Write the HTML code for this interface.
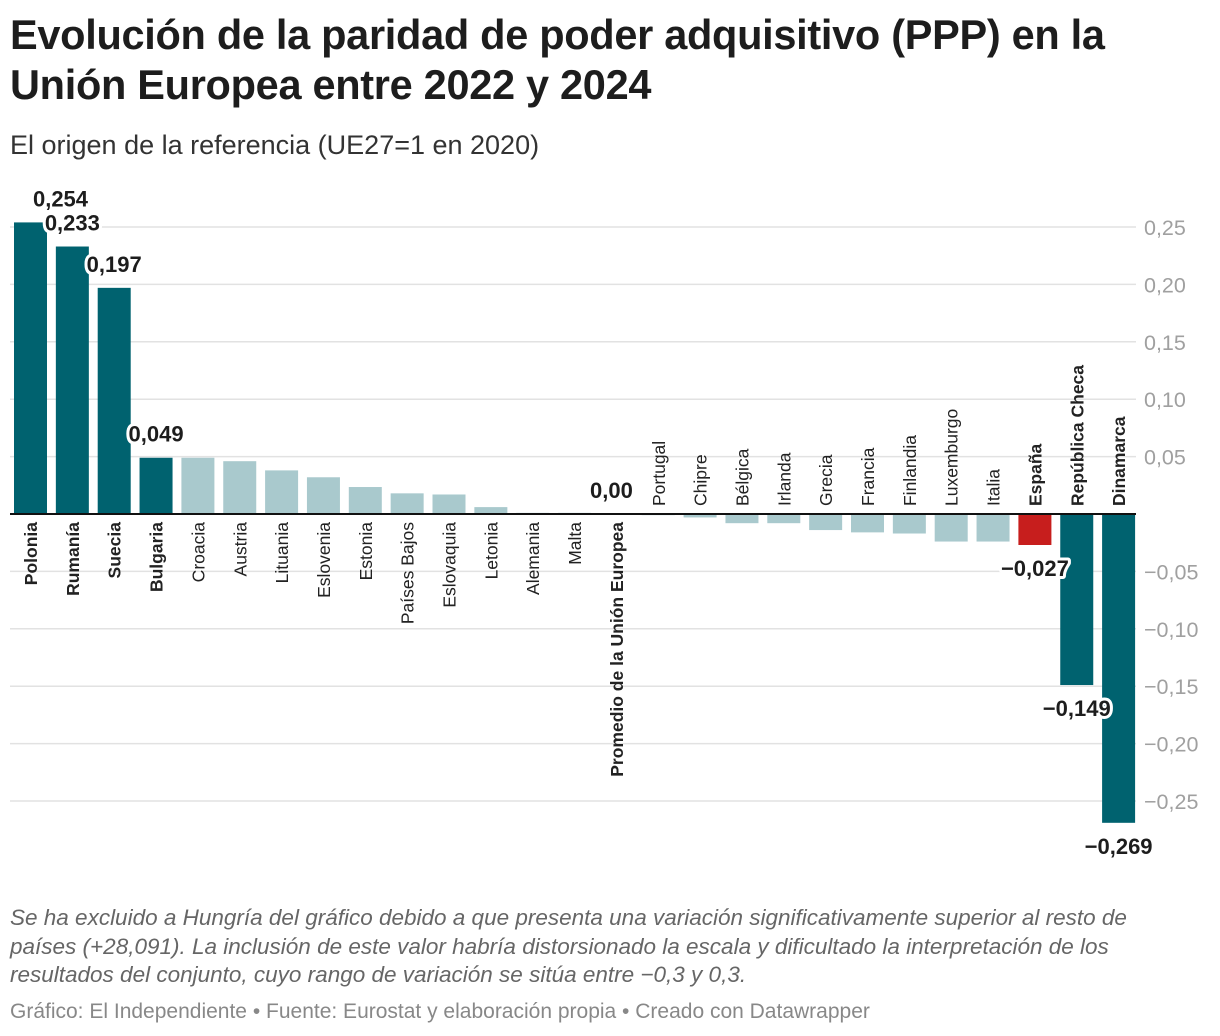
<!DOCTYPE html>
<html><head><meta charset="utf-8">
<style>
body{margin:0;background:#fff;width:1220px;height:1036px;overflow:hidden;font-family:"Liberation Sans",Arial,sans-serif;color:#1d1d1d}
h1{position:absolute;left:10px;top:10px;margin:0;font-size:41.5px;line-height:50px;font-weight:bold;letter-spacing:-0.3px;width:1200px}
.sub{position:absolute;left:10px;top:130px;font-size:27px;color:#333}
.note{position:absolute;left:10px;top:904px;font-size:22.5px;line-height:28.5px;font-style:italic;color:#666;width:1178px}
.src{position:absolute;left:10px;top:1000px;font-size:21px;color:#888}
svg{position:absolute;left:0;top:0}
</style></head><body>
<h1>Evolución de la paridad de poder adquisitivo (PPP) en la Unión Europea entre 2022 y 2024</h1>
<div class="sub">El origen de la referencia (UE27=1 en 2020)</div>
<svg id="chart" width="1220" height="1036"></svg>
<div class="note">Se ha excluido a Hungría del gráfico debido a que presenta una variación significativamente superior al resto de países (+28,091). La inclusión de este valor habría distorsionado la escala y dificultado la interpretación de los resultados del conjunto, cuyo rango de variación se sitúa entre −0,3 y 0,3.</div>
<div class="src">Gráfico: El Independiente • Fuente: Eurostat y elaboración propia • Creado con Datawrapper</div>
<script>
const categories=["Polonia","Rumanía","Suecia","Bulgaria","Croacia","Austria","Lituania","Eslovenia","Estonia","Países Bajos","Eslovaquia","Letonia","Alemania","Malta","Promedio de la Unión Europea","Portugal","Chipre","Bélgica","Irlanda","Grecia","Francia","Finlandia","Luxemburgo","Italia","España","República Checa","Dinamarca"];
const values=[0.254,0.233,0.197,0.049,0.049,0.046,0.038,0.032,0.0235,0.018,0.017,0.006,0.001,0.001,0,-0.001,-0.003,-0.008,-0.008,-0.014,-0.016,-0.017,-0.024,-0.024,-0.027,-0.149,-0.269];
const highlight=["Polonia","Rumanía","Suecia","Bulgaria","Promedio de la Unión Europea","España","República Checa","Dinamarca"];
const labeled=["Polonia","Rumanía","Suecia","Bulgaria","Promedio de la Unión Europea","España","República Checa","Dinamarca"];
const ticks=[0.25,0.2,0.15,0.1,0.05,-0.05,-0.1,-0.15,-0.2,-0.25];
const tickLabels=["0,25","0,20","0,15","0,10","0,05","−0,05","−0,10","−0,15","−0,20","−0,25"];

const NS="http://www.w3.org/2000/svg";
const svg=document.getElementById('chart');
const y0=514, k=1148;
const y=v=>y0-v*k;
const pitch=41.85, bw=33;
const x=i=>14+i*pitch;
function el(t,a,p){const e=document.createElementNS(NS,t);for(const n in a)e.setAttribute(n,a[n]);(p||svg).appendChild(e);return e;}
const fmt=v=>(v<0?"−":"")+Math.abs(v).toFixed(3).replace('.',',');

ticks.forEach((t,i)=>{
  const g=el('line',{x1:10,x2:1136,y1:y(t),y2:y(t),stroke:'#e2e2e2','stroke-width':1.5});
  
  
  const tx=el('text',{x:1144,y:y(t)+8,'font-size':21.5,fill:'#a0a0a0'});
  tx.textContent=tickLabels[i];
  
  
});

categories.forEach((c,i)=>{
  const v=values[i];
  const hi=highlight.includes(c);
  let col=hi?'#00626f':'#a9c9cd';
  if(c==="España")col='#c71e1d';
  const top=Math.min(y(v),y0), h=Math.abs(y(v)-y0);
  const r=el('rect',{x:x(i),y:top,width:bw,height:Math.max(h,0),fill:col});
  
  
  const cx=x(i)+bw/2;
  const lx=cx+6.5;
  let ly, anchor;
  if(v>=0){ly=522;anchor='end';}
  else{ly=506;anchor='start';}
  const t=el('text',{x:lx,y:ly,'font-size':17.5,'font-weight':hi?'bold':'normal',fill:'#222','text-anchor':anchor,transform:`rotate(-90 ${lx} ${ly})`});
  t.textContent=c;
  
  
});
const z=el('line',{x1:10,x2:1136,y1:y0,y2:y0,stroke:'#111','stroke-width':2});



categories.forEach((c,i)=>{
  if(!labeled.includes(c))return;
  const v=values[i];
  const cx=x(i)+bw/2;
  let vx=cx, vy;
  if(v>0){vy=y(v)-16; if(i===0)vx=cx+30;}
  else if(v<0){vy=y(v)+31;}
  else{vy=498; vx=cx-5;}
  const txt=v===0?"0,00":fmt(v);
  const halo=el('text',{x:vx,y:vy,'font-size':22,'font-weight':'bold','text-anchor':'middle',fill:'#fff',stroke:'#fff','stroke-width':6,'stroke-linejoin':'round'});
  halo.textContent=txt;
  
  
  const vt=el('text',{x:vx,y:vy,'font-size':22,'font-weight':'bold','text-anchor':'middle',fill:'#1d1d1d'});
  vt.textContent=txt;
  
  
});
</script>
</body></html>
